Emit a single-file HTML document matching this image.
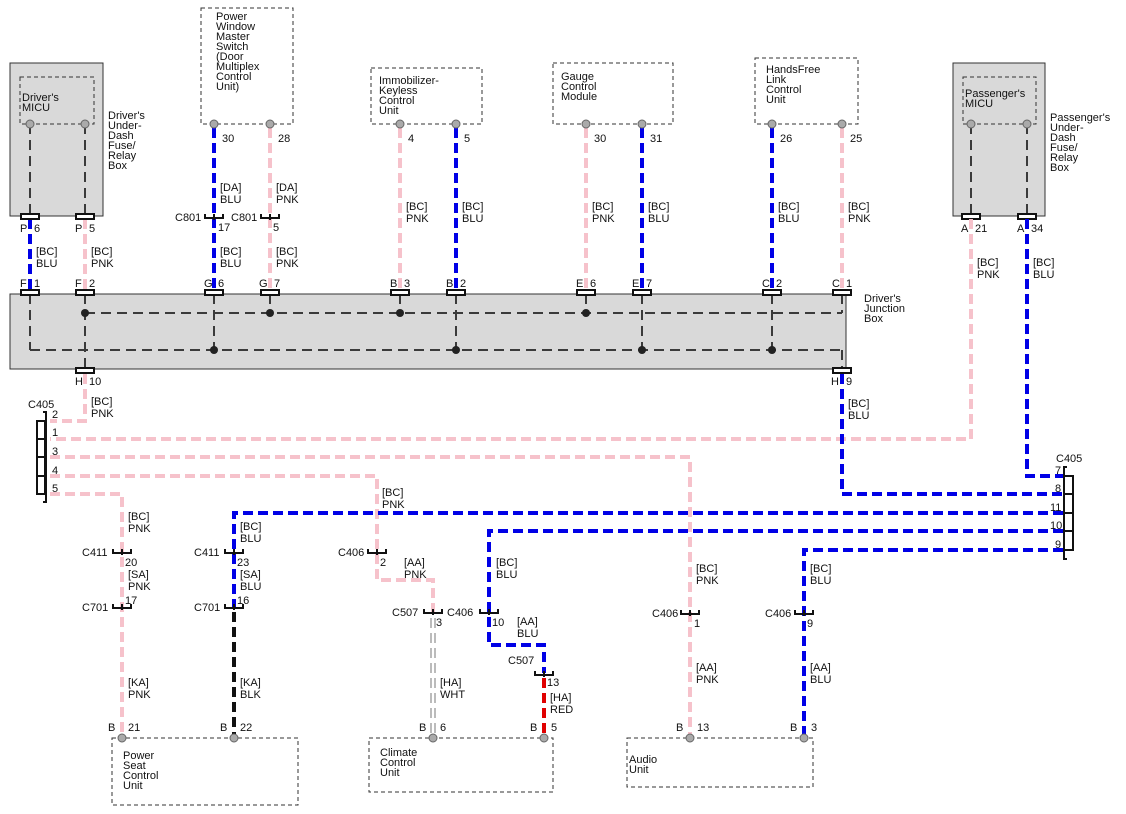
<!DOCTYPE html>
<html><head><meta charset="utf-8"><style>
html,body{margin:0;padding:0;background:#fff;}
svg{display:block;}
text{font-family:"Liberation Sans",Arial,sans-serif;font-size:11px;fill:#111;}
.b{stroke:#0000e6;stroke-width:4;stroke-dasharray:10 5;fill:none;}
.p{stroke:#f6c2cb;stroke-width:4;stroke-dasharray:10 5;fill:none;}
.k{stroke:#3a3a3a;stroke-width:2;stroke-dasharray:10 6;fill:none;}
.kk{stroke:#111;stroke-width:4;stroke-dasharray:10 5;fill:none;}
.r{stroke:#e00000;stroke-width:4;stroke-dasharray:10 5;fill:none;}
.wo{stroke:#777;stroke-width:5;stroke-dasharray:10 5;fill:none;}
.wi{stroke:#fff;stroke-width:3;stroke-dasharray:10 5;fill:none;}
.db{fill:none;stroke:#333;stroke-width:1;stroke-dasharray:4 3;}
.cn{fill:#fff;stroke:#111;stroke-width:2;}
.pin{fill:#aaa;stroke:#666;stroke-width:1;}
.ic{fill:none;stroke:#111;stroke-width:2;}
</style></head><body>
<svg width="1126" height="814" viewBox="0 0 1126 814" xmlns="http://www.w3.org/2000/svg">
<!-- Driver's under-dash box -->
<rect x="10" y="63" width="93" height="153" fill="#d9d9d9" stroke="#333" stroke-width="1"/>
<rect x="20" y="77" width="74" height="47" class="db"/>
<text x="22" y="101">Driver's</text><text x="22" y="111">MICU</text>
<path class="k" d="M30 124V216M85 124V216"/>
<circle class="pin" cx="30" cy="124" r="4"/><circle class="pin" cx="85" cy="124" r="4"/>
<text x="108" y="119">Driver's</text><text x="108" y="129">Under-</text><text x="108" y="139">Dash</text><text x="108" y="149">Fuse/</text><text x="108" y="159">Relay</text><text x="108" y="169">Box</text>

<!-- Passenger box -->
<rect x="953" y="63" width="92" height="153" fill="#d9d9d9" stroke="#333" stroke-width="1"/>
<rect x="963" y="77" width="73" height="47" class="db"/>
<text x="965" y="97">Passenger's</text><text x="965" y="107">MICU</text>
<path class="k" d="M971 124V216M1027 124V216"/>
<circle class="pin" cx="971" cy="124" r="4"/><circle class="pin" cx="1027" cy="124" r="4"/>
<text x="1050" y="121">Passenger's</text><text x="1050" y="131">Under-</text><text x="1050" y="141">Dash</text><text x="1050" y="151">Fuse/</text><text x="1050" y="161">Relay</text><text x="1050" y="171">Box</text>

<!-- Top dashed boxes -->
<rect x="201" y="8" width="92" height="116" class="db"/>
<text x="216" y="20">Power</text><text x="216" y="30">Window</text><text x="216" y="40">Master</text><text x="216" y="50">Switch</text><text x="216" y="60">(Door</text><text x="216" y="70">Multiplex</text><text x="216" y="80">Control</text><text x="216" y="90">Unit)</text>
<rect x="371" y="68" width="111" height="56" class="db"/>
<text x="379" y="84">Immobilizer-</text><text x="379" y="94">Keyless</text><text x="379" y="104">Control</text><text x="379" y="114">Unit</text>
<rect x="553" y="63" width="120" height="61" class="db"/>
<text x="561" y="80">Gauge</text><text x="561" y="90">Control</text><text x="561" y="100">Module</text>
<rect x="755" y="58" width="103" height="66" class="db"/>
<text x="766" y="73">HandsFree</text><text x="766" y="83">Link</text><text x="766" y="93">Control</text><text x="766" y="103">Unit</text>

<!-- Junction box -->
<rect x="10" y="294" width="836" height="75" fill="#d9d9d9" stroke="#333" stroke-width="1"/>
<text x="864" y="302">Driver's</text><text x="864" y="312">Junction</text><text x="864" y="322">Box</text>
<path class="k" d="M85 313H842M30 350H842M30 294V350M85 294V370M214 294V350M270 294V313M400 294V313M456 294V350M586 294V313M642 294V350M772 294V350M842 294V313M842 350V370"/>
<g fill="#222"><circle cx="85" cy="313" r="4"/><circle cx="270" cy="313" r="4"/><circle cx="400" cy="313" r="4"/><circle cx="586" cy="313" r="4"/><circle cx="214" cy="350" r="4"/><circle cx="456" cy="350" r="4"/><circle cx="642" cy="350" r="4"/><circle cx="772" cy="350" r="4"/></g>

<!-- Top wires -->
<path class="b" d="M30 219V292"/><path class="p" d="M85 219V292"/>
<path class="b" d="M214 128V292"/><path class="p" d="M270 128V292"/>
<path class="p" d="M400 128V292"/><path class="b" d="M456 128V292"/>
<path class="p" d="M586 128V292"/><path class="b" d="M642 128V292"/>
<path class="b" d="M772 128V292"/><path class="p" d="M842 128V292"/>
<g>
<circle class="pin" cx="214" cy="124" r="4"/><circle class="pin" cx="270" cy="124" r="4"/>
<circle class="pin" cx="400" cy="124" r="4"/><circle class="pin" cx="456" cy="124" r="4"/>
<circle class="pin" cx="586" cy="124" r="4"/><circle class="pin" cx="642" cy="124" r="4"/>
<circle class="pin" cx="772" cy="124" r="4"/><circle class="pin" cx="842" cy="124" r="4"/>
</g>
<text x="222" y="142">30</text><text x="278" y="142">28</text>
<text x="408" y="142">4</text><text x="464" y="142">5</text>
<text x="594" y="142">30</text><text x="650" y="142">31</text>
<text x="780" y="142">26</text><text x="850" y="142">25</text>

<!-- labels top -->
<text x="36" y="255">[BC]</text><text x="36" y="267">BLU</text>
<text x="91" y="255">[BC]</text><text x="91" y="267">PNK</text>
<text x="220" y="191">[DA]</text><text x="220" y="203">BLU</text>
<text x="276" y="191">[DA]</text><text x="276" y="203">PNK</text>
<text x="220" y="255">[BC]</text><text x="220" y="267">BLU</text>
<text x="276" y="255">[BC]</text><text x="276" y="267">PNK</text>
<text x="406" y="210">[BC]</text><text x="406" y="222">PNK</text>
<text x="462" y="210">[BC]</text><text x="462" y="222">BLU</text>
<text x="592" y="210">[BC]</text><text x="592" y="222">PNK</text>
<text x="648" y="210">[BC]</text><text x="648" y="222">BLU</text>
<text x="778" y="210">[BC]</text><text x="778" y="222">BLU</text>
<text x="848" y="210">[BC]</text><text x="848" y="222">PNK</text>
<text x="977" y="266">[BC]</text><text x="977" y="278">PNK</text>
<text x="1033" y="266">[BC]</text><text x="1033" y="278">BLU</text>

<!-- C801 connectors -->
<path class="ic" d="M205 214V218H223V214M214 214V220M261 214V218H279V214M270 214V220"/>
<text x="175" y="221">C801</text><text x="231" y="221">C801</text>
<text x="218" y="231">17</text><text x="273" y="231">5</text>

<!-- box connector rects -->
<g class="cn">
<rect x="21" y="214" width="18" height="5"/><rect x="76" y="214" width="18" height="5"/>
<rect x="962" y="214" width="18" height="5"/><rect x="1018" y="214" width="18" height="5"/>
<rect x="21" y="290" width="18" height="5"/><rect x="76" y="290" width="18" height="5"/>
<rect x="205" y="290" width="18" height="5"/><rect x="261" y="290" width="18" height="5"/>
<rect x="391" y="290" width="18" height="5"/><rect x="447" y="290" width="18" height="5"/>
<rect x="577" y="290" width="18" height="5"/><rect x="633" y="290" width="18" height="5"/>
<rect x="763" y="290" width="18" height="5"/><rect x="833" y="290" width="18" height="5"/>
<rect x="76" y="368" width="18" height="5"/><rect x="833" y="368" width="18" height="5"/>
</g>
<text x="20" y="232">P</text><text x="34" y="232">6</text><text x="75" y="232">P</text><text x="89" y="232">5</text>
<text x="961" y="232">A</text><text x="975" y="232">21</text><text x="1017" y="232">A</text><text x="1031" y="232">34</text>
<text x="20" y="287">F</text><text x="34" y="287">1</text><text x="75" y="287">F</text><text x="89" y="287">2</text>
<text x="204" y="287">G</text><text x="218" y="287">6</text><text x="259" y="287">G</text><text x="274" y="287">7</text>
<text x="390" y="287">B</text><text x="404" y="287">3</text><text x="446" y="287">B</text><text x="460" y="287">2</text>
<text x="576" y="287">E</text><text x="590" y="287">6</text><text x="632" y="287">E</text><text x="646" y="287">7</text>
<text x="762" y="287">C</text><text x="776" y="287">2</text><text x="832" y="287">C</text><text x="846" y="287">1</text>
<text x="75" y="385">H</text><text x="89" y="385">10</text><text x="831" y="385">H</text><text x="846" y="385">9</text>

<!-- Pink lower wires -->
<path class="p" d="M85 374V421H50"/>
<path class="p" d="M971 219V439H50"/>
<path class="p" d="M50 457H690V738"/>
<path class="p" d="M50 476H377V580H433V612"/>
<path class="p" d="M50 494H122V738"/>
<path class="wo" d="M433 618V736"/><path class="wi" d="M433 618V736"/>
<!-- Blue lower wires -->
<path class="b" d="M1027 219V476H1063"/>
<path class="b" d="M842 374V494H1063"/>
<path class="b" d="M1063 513H234V607"/>
<path class="kk" d="M234 612V736"/>
<path class="b" d="M1063 531H489V645H544V673"/>
<path class="r" d="M544 678V736"/>
<path class="b" d="M1063 550H804V738"/>

<!-- C405 left -->
<path class="ic" d="M37 421H45V494H37ZM37 439H45M37 457H45M37 476H45" stroke-width="1.5"/>
<path class="ic" d="M43 412H46V502H43" stroke-width="1.5"/>
<text x="28" y="408">C405</text>
<text x="52" y="418">2</text><text x="52" y="436">1</text><text x="52" y="455">3</text><text x="52" y="474">4</text><text x="52" y="492">5</text>
<text x="91" y="405">[BC]</text><text x="91" y="417">PNK</text>
<text x="848" y="407">[BC]</text><text x="848" y="419">BLU</text>

<!-- C405 right -->
<path class="ic" d="M1064 476H1073V550H1064ZM1064 494H1073M1064 513H1073M1064 531H1073" stroke-width="1.5"/>
<path class="ic" d="M1067 467H1064V559H1067" stroke-width="1.5"/>
<text x="1056" y="462">C405</text>
<text x="1055" y="474">7</text><text x="1055" y="492">8</text><text x="1050" y="511">11</text><text x="1050" y="529">10</text><text x="1055" y="548">9</text>

<!-- lower labels -->
<text x="382" y="496">[BC]</text><text x="382" y="508">PNK</text>
<text x="128" y="520">[BC]</text><text x="128" y="532">PNK</text>
<text x="240" y="530">[BC]</text><text x="240" y="542">BLU</text>
<text x="496" y="566">[BC]</text><text x="496" y="578">BLU</text>
<text x="404" y="566">[AA]</text><text x="404" y="578">PNK</text>
<text x="696" y="572">[BC]</text><text x="696" y="584">PNK</text>
<text x="810" y="572">[BC]</text><text x="810" y="584">BLU</text>
<text x="128" y="578">[SA]</text><text x="128" y="590">PNK</text>
<text x="240" y="578">[SA]</text><text x="240" y="590">BLU</text>
<text x="517" y="625">[AA]</text><text x="517" y="637">BLU</text>
<text x="128" y="686">[KA]</text><text x="128" y="698">PNK</text>
<text x="240" y="686">[KA]</text><text x="240" y="698">BLK</text>
<text x="440" y="686">[HA]</text><text x="440" y="698">WHT</text>
<text x="550" y="701">[HA]</text><text x="550" y="713">RED</text>
<text x="696" y="671">[AA]</text><text x="696" y="683">PNK</text>
<text x="810" y="671">[AA]</text><text x="810" y="683">BLU</text>

<!-- inline connectors lower -->
<path class="ic" d="M113 549V553H131V549M122 549V555M225 549V553H243V549M234 549V555M368 549V553H386V549M377 549V555
M113 604V608H131V604M122 604V610M225 604V608H243V604M234 604V610
M424 609V613H442V609M433 609V615M480 609V613H498V609M489 609V615
M681 610V614H699V610M690 610V616M795 610V614H813V610M804 610V616
M535 671V675H553V671M544 671V677"/>
<text x="82" y="556">C411</text><text x="125" y="566">20</text>
<text x="194" y="556">C411</text><text x="237" y="566">23</text>
<text x="338" y="556">C406</text><text x="380" y="566">2</text>
<text x="82" y="611">C701</text><text x="125" y="604">17</text>
<text x="194" y="611">C701</text><text x="237" y="604">16</text>
<text x="392" y="616">C507</text><text x="436" y="626">3</text>
<text x="447" y="616">C406</text><text x="492" y="626">10</text>
<text x="652" y="617">C406</text><text x="694" y="627">1</text>
<text x="765" y="617">C406</text><text x="807" y="627">9</text>
<text x="508" y="664">C507</text><text x="547" y="686">13</text>

<!-- bottom pins -->
<text x="108" y="731">B</text><text x="128" y="731">21</text>
<text x="220" y="731">B</text><text x="240" y="731">22</text>
<text x="419" y="731">B</text><text x="440" y="731">6</text>
<text x="530" y="731">B</text><text x="551" y="731">5</text>
<text x="676" y="731">B</text><text x="697" y="731">13</text>
<text x="790" y="731">B</text><text x="811" y="731">3</text>

<rect x="112" y="738" width="186" height="67" class="db"/>
<text x="123" y="759">Power</text><text x="123" y="769">Seat</text><text x="123" y="779">Control</text><text x="123" y="789">Unit</text>
<rect x="369" y="738" width="184" height="54" class="db"/>
<text x="380" y="756">Climate</text><text x="380" y="766">Control</text><text x="380" y="776">Unit</text>
<rect x="627" y="738" width="186" height="49" class="db"/>
<text x="629" y="763">Audio</text><text x="629" y="773">Unit</text>

<g>
<circle class="pin" cx="122" cy="738" r="4"/><circle class="pin" cx="234" cy="738" r="4"/>
<circle class="pin" cx="433" cy="738" r="4"/><circle class="pin" cx="544" cy="738" r="4"/>
<circle class="pin" cx="690" cy="738" r="4"/><circle class="pin" cx="804" cy="738" r="4"/>
</g>
</svg>
</body></html>
